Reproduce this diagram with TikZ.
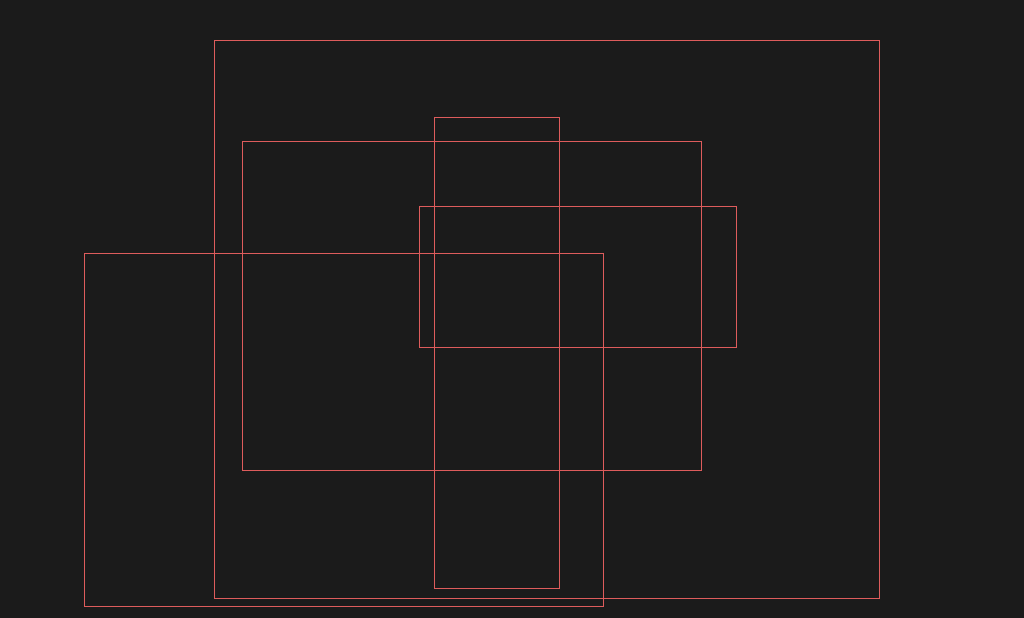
\documentclass[tikz,border=0pt]{standalone}
\usepackage{xcolor}
\definecolor{bgdark}{RGB}{27,27,27}
\definecolor{framered}{RGB}{222,92,92}
\usepackage{tikz}

\begin{document}
\begin{tikzpicture}[x=0.02cm, y=-0.02cm,
    framebox/.style={draw=framered, line width=0.55pt}]
  % background
  \fill[bgdark] (0,0) rectangle (1024,618);
  \useasboundingbox (0,0) rectangle (1024,618);

  % outer frame
  \draw[framebox] (214.5,40.5) rectangle (879.5,598.5);
  % middle frame
  \draw[framebox] (242.5,141.5) rectangle (701.5,470.5);
  % tall narrow frame
  \draw[framebox] (434.5,117.5) rectangle (559.5,588.5);
  % wide short frame
  \draw[framebox] (419.5,206.5) rectangle (736.5,347.5);
  % lower left frame
  \draw[framebox] (84.5,253.5) rectangle (603.5,606.5);
\end{tikzpicture}
\end{document}
